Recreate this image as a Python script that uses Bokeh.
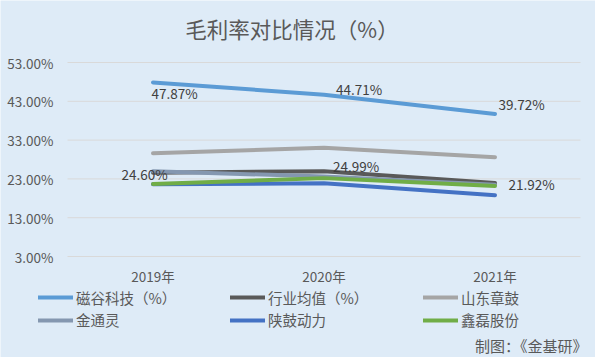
from bokeh.plotting import figure
from bokeh.models import Range1d, Legend, LegendItem, Label, ColumnDataSource
from bokeh.core.properties import value
from bokeh.embed import file_html
from bokeh.resources import INLINE

# ---- data ----
categories = ["2019年", "2020年", "2021年"]
cigu = [47.87, 44.71, 39.72]          # 磁谷科技（%）
industry = [24.60, 24.99, 21.92]      # 行业均值（%）
shandong = [29.6, 31.0, 28.6]         # 山东章鼓
jintongling = [25.0, 23.6, 21.5]      # 金通灵
shangu = [21.6, 21.9, 18.8]           # 陕鼓动力
xinlei = [21.7, 23.2, 21.2]           # 鑫磊股份

series_names = ["磁谷科技（%）", "行业均值（%）", "山东章鼓", "金通灵", "陕鼓动力", "鑫磊股份"]
series_values = [cigu, industry, shandong, jintongling, shangu, xinlei]
series_colors = ["#5B9BD5", "#595959", "#A5A5A5", "#8497B0", "#4472C4", "#70AD47"]

y_ticks = [3, 13, 23, 33, 43, 53]
y_tick_labels = ["3.00%", "13.00%", "23.00%", "33.00%", "43.00%", "53.00%"]

title_text = "毛利率对比情况（%）"
source_text = "制图：《金基研》"

FONT = "Noto Sans CJK SC"
BG = "#DEEBF7"

W, H = 595, 357
PL, PR, PT, PB = 67, 15, 62, 101        # plot-area margins in pixels
n = len(categories)
xs = list(range(n))
x_per_px = n / (W - PL - PR)
y_per_px = (y_ticks[-1] - y_ticks[0]) / (H - PT - PB)

p = figure(width=W, height=H, output_backend="svg", toolbar_location=None,
           x_range=Range1d(-0.5 - PL * x_per_px, n - 0.5 + PR * x_per_px),
           y_range=Range1d(y_ticks[0] - PB * y_per_px, y_ticks[-1] + PT * y_per_px),
           x_axis_location=None, y_axis_location=None,
           min_border=0)
p.background_fill_color = BG
p.border_fill_color = BG
p.outline_line_color = None
p.grid.grid_line_color = None

# horizontal gridlines over the plot area
p.segment(x0=-0.5, x1=n - 0.5, y0=y_ticks, y1=y_ticks,
          line_color="#D9D9D9", line_width=1)

# y tick labels
p.text(x=[-0.5] * len(y_ticks), y=y_ticks, text=y_tick_labels, x_offset=-14,
       text_align="right", text_baseline="middle", text_font=value(FONT),
       text_font_size="13.5px", text_color="#595959")
# x tick labels
p.text(x=xs, y=[y_ticks[0]] * n, text=categories, y_offset=19.5,
       text_align="center", text_baseline="middle", text_font=value(FONT),
       text_font_size="13.5px", text_color="#595959")

renderers = []
for name, vals, col in zip(series_names, series_values, series_colors):
    r = p.line(xs, vals, line_color=col, line_width=4, line_cap="round",
               line_join="round")
    renderers.append(r)

# data labels (磁谷科技 and 行业均值)
lab_x = xs + xs
lab_y = cigu + industry
lab_t = ["%.2f%%" % v for v in cigu + industry]
lab_dx = [-1.5, 12, 3.5, -31.5, 9, 13.5]
lab_dy = [11, -6, -10, 1, -5, 0.5]
src = ColumnDataSource(dict(x=lab_x, y=lab_y, t=lab_t, dx=lab_dx, dy=lab_dy))
p.text(x="x", y="y", text="t", x_offset="dx", y_offset="dy", source=src,
       text_align="left", text_baseline="middle", text_font=value(FONT),
       text_font_size="13.5px", text_color="#404040")

# legend: 3 columns x 2 rows
leg_pos = [(38, 49.3), (230, 49.3), (423, 49.3),
           (38, 27), (230, 27), (423, 27)]
for name, r, pos in zip(series_names, renderers, leg_pos):
    leg = Legend(items=[LegendItem(label=name, renderers=[r])], location=pos,
                 orientation="horizontal", padding=0, margin=0, spacing=0,
                 glyph_width=35, glyph_height=20, label_height=20,
                 label_standoff=3, border_line_color=None,
                 background_fill_alpha=0, label_text_font=FONT,
                 label_text_font_size="14.5px", label_text_color="#595959")
    p.add_layout(leg)

p.add_layout(Label(x=291.5, y=H - 27.5, x_units="screen", y_units="screen",
                   text=title_text, text_align="center", text_baseline="middle",
                   text_font=FONT, text_font_size="21.5px", text_color="#595959"))
p.add_layout(Label(x=587, y=H - 345, x_units="screen", y_units="screen",
                   text=source_text, text_align="right", text_baseline="middle",
                   text_font=FONT, text_font_size="15px", text_color="#595959"))

open("out.html", "w").write(file_html(p, INLINE))
